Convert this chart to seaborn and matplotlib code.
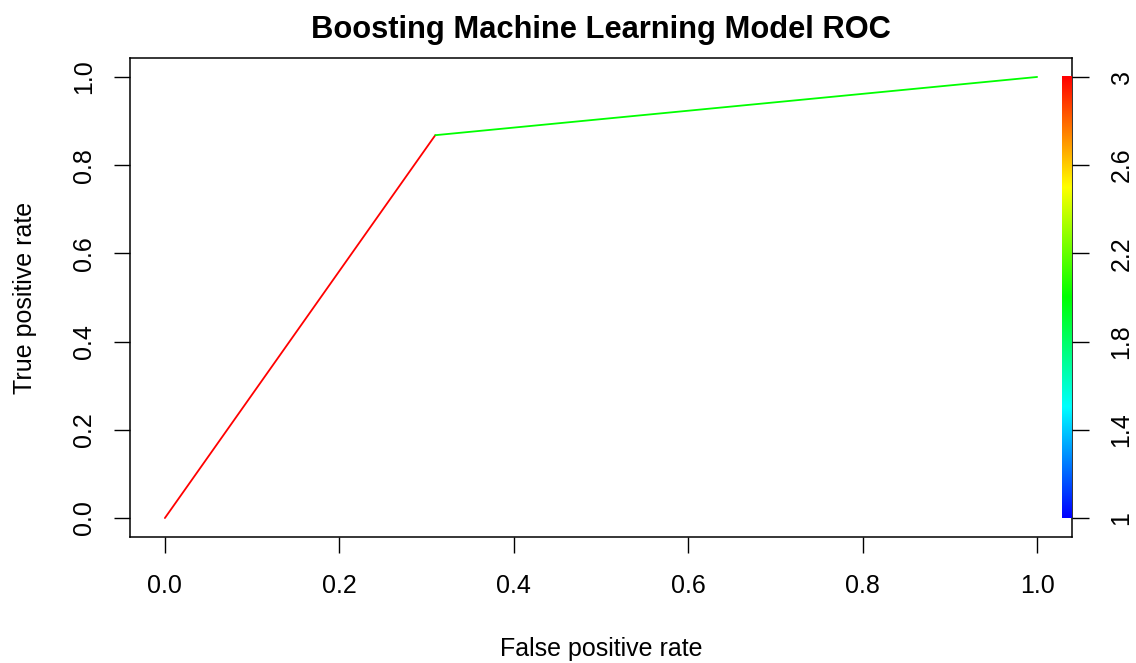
import colorsys
import numpy as np
import pandas as pd
import matplotlib
matplotlib.use("Agg")
import matplotlib.pyplot as plt
import seaborn as sns

# ROC curve points (false positive rate, true positive rate)
fpr = [0.0, 0.310, 1.0]
tpr = [0.0, 0.868, 1.0]
# cutoff value used to colour each segment of the curve
seg_cutoff = [3.0, 2.0]
cutoff_ticks = [1, 1.4, 1.8, 2.2, 2.6, 3]
cutoff_range = (1.0, 3.0)
axis_ticks = [0.0, 0.2, 0.4, 0.6, 0.8, 1.0]
axis_labels = ["0.0", "0.2", "0.4", "0.6", "0.8", "1.0"]


def cutoff_color(c):
    lo, hi = cutoff_range
    hue = (hi - c) / (hi - lo) * (4.0 / 6.0)
    return colorsys.hsv_to_rgb(hue, 1.0, 1.0)


sns.set_theme(style="white")
plt.rcParams["font.family"] = ["Liberation Sans", "DejaVu Sans"]
plt.rcParams["text.color"] = "black"
plt.rcParams["axes.labelcolor"] = "black"
plt.rcParams["xtick.color"] = "black"
plt.rcParams["ytick.color"] = "black"

W, H = 1136, 663
fig = plt.figure(figsize=(W / 100, H / 100), dpi=100)
L, R, T, B = 130, 1072, 58, 537
ax = fig.add_axes([L / W, (H - B) / H, (R - L) / W, (B - T) / H])

for i, c in enumerate(seg_cutoff):
    seg = pd.DataFrame({"fpr": fpr[i:i + 2], "tpr": tpr[i:i + 2]})
    sns.lineplot(data=seg, x="fpr", y="tpr", color=cutoff_color(c), lw=1.3,
                 sort=False, ax=ax, estimator=None)

ax.set_xlim(-0.04, 1.04)
ax.set_ylim(-0.043, 1.043)

# colour key along the right edge
grad = np.linspace(cutoff_range[0], cutoff_range[1], 256)
cols = np.array([cutoff_color(g) for g in grad])[:, None, :]
ax.imshow(cols, origin="lower", extent=[1.029, 1.04, 0.0, 1.0], aspect="auto",
          interpolation="bilinear", zorder=3)

ax.set_xticks(axis_ticks)
ax.set_xticklabels(axis_labels)
ax.set_yticks(axis_ticks)
ax.set_yticklabels(axis_labels, rotation=90, va="center")
ax.tick_params(axis="both", which="both", direction="out", length=11.5, width=1.0,
               labelsize=18, left=True, bottom=True)
ax.tick_params(axis="x", pad=15)
ax.tick_params(axis="y", pad=13)
for s in ax.spines.values():
    s.set_color("black")
    s.set_linewidth(1.1)

ax.set_xlabel("False positive rate", fontsize=18)
ax.xaxis.set_label_coords(0.5, (B - 637) / (B - T))
ax.set_ylabel("True positive rate", fontsize=18)
ax.yaxis.set_label_coords((37 - L) / (R - L), 0.5)
ax.set_title("Boosting Machine Learning Model ROC", fontsize=22.2, fontweight="bold",
             y=1.0 + (T - 38) / (B - T), pad=0)

# cutoff axis on the right side
ax2 = ax.twinx()
lo, hi = cutoff_range
ax2.set_ylim(lo + (hi - lo) * -0.043, lo + (hi - lo) * 1.043)
ax2.set_yticks(cutoff_ticks)
ax2.set_yticklabels([f"{t:g}" for t in cutoff_ticks], rotation=90, va="center")
ax2.tick_params(axis="y", direction="out", length=12, width=1.0,
                labelsize=18, pad=15, right=True)
ax2.grid(False)
for s in ax2.spines.values():
    s.set_visible(False)

fig.savefig("out.png", dpi=100, facecolor="white")
